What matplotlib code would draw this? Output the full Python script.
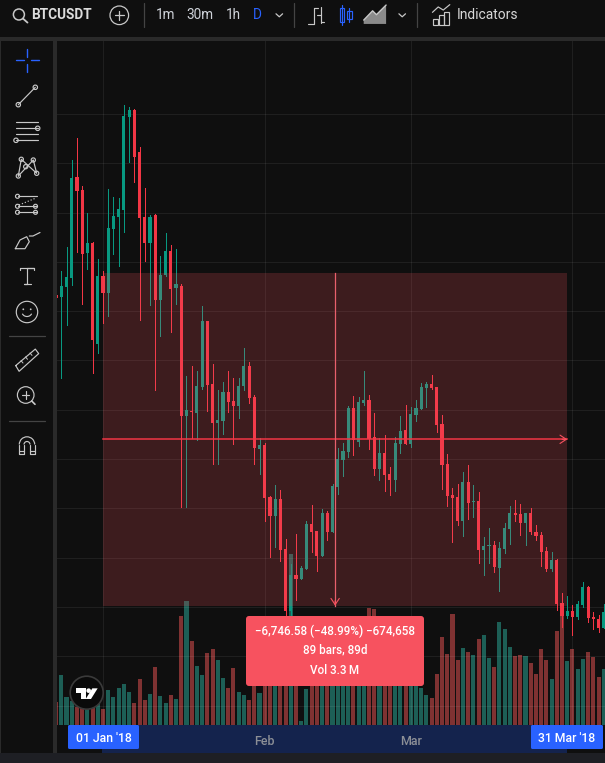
import matplotlib
matplotlib.use("Agg")
import matplotlib.pyplot as plt
import pandas as pd
from matplotlib.patches import Circle, FancyBboxPatch, Polygon, Rectangle, Arc

plt.rcParams['font.family'] = ['Roboto', 'DejaVu Sans']

dates = pd.date_range('2017-12-23', periods=106)
opens = [13327,13287,13490,13672,15720,15457,14179,14382,12334,13713,13368,14666,14909,15051,16937,17079,16227,14909,14382,14950,
         13226,13733,14220,13469,13510,10874,10975,10934,11462,12800,11522,10732,10772,11360,11178,11077,11482,11887,11259,10204,
         10285,9231,8845,9190,8176,6919,7649,7568,7771,8683,8541,8034,8906,8521,9434,9981,10143,11036,10346,11137,
         11198,10448,9799,10123,9697,9576,10306,10590,10306,10894,11016,11441,11522,11462,10711,9900,9271,9231,8744,9535,
         9129,9150,8156,8237,8257,7791,8176,8582,8906,8886,8703,8906,8521,8460,8136,7771,7953,7081,6818,6919,
         6797,7041,7406,6797,6757,6574]
highs = [13327,13814,14301,16065,16511,15538,14990,14402,14057,13814,15477,15315,15295,17181,17140,17100,16329,15497,14950,14970,
         14118,14585,14341,14260,13550,11685,11887,11786,13104,12800,11928,11401,11563,11786,11644,11644,12253,11969,11299,10427,
         10326,9251,9474,9373,8379,7872,8480,7832,8744,9069,8541,8987,8947,9494,10225,10326,11077,11279,11259,11786,
         11299,10934,10427,10488,9839,10448,10874,11097,11056,11198,11543,11563,11705,11462,10894,10103,9414,9494,9738,9880,
         9474,9332,8420,8602,8339,8318,8703,9048,9170,9089,8906,9008,8663,8521,8217,8115,7973,7284,7223,7041,
         7122,7507,7426,6899,6838,7061]
lows = [13267,11644,12719,13530,14199,13145,13855,11746,12151,12760,12902,14159,13916,14605,16025,15619,12820,14017,13125,11401,
        12496,13713,12577,13145,9028,9028,10427,10387,11421,10975,9900,9900,10508,10955,10306,10833,11401,11137,9900,9697,
        8744,8014,8217,7933,6797,6736,7142,7568,7771,8115,7730,8034,8359,8521,9292,9657,10042,10083,10265,11097,
        10204,9677,9576,9353,9271,9353,10123,10306,10245,10772,11016,11056,11421,10549,9393,9048,8318,8663,8440,8785,
        8825,7892,7649,7892,7710,7325,8095,8278,8744,8460,8257,8481,8359,7832,7730,7730,6939,6594,6777,6432,
        6757,7000,6696,6554,6493,6574]
closes = [13267,13510,13692,15700,15437,14159,14382,12415,13713,13368,14686,14930,15072,16957,17079,16126,14889,14382,14909,13226,
          13733,14220,13449,13550,10874,10995,10955,11482,12800,11502,10732,10792,11360,11157,11077,11482,11887,11239,10225,10285,
          9210,8845,9190,8156,6919,7649,7568,7791,8683,8521,8034,8906,8521,9454,10001,10164,11036,10387,11157,11198,
          10407,9799,10123,9677,9576,10326,10569,10306,10914,11036,11462,11522,11441,10691,9880,9251,9210,8744,9535,9109,
          9150,8156,8237,8257,7811,8197,8602,8906,8866,8703,8906,8521,8440,8115,7771,7953,7061,6818,6919,6797,
          7061,7406,6777,6757,6574,6899]
volumes_k = [15.6,34,19,16.3,12.2,11.6,12.9,12.2,15.6,10.9,23.8,19,25.2,27.9,22.4,15,31.3,17,21.1,39.4,
             19.7,15,20.4,17.7,74.1,85,57.1,40.1,34,49,51.7,44.2,32,25.2,38.8,22.4,20.4,17,37.4,21.8,
             37.4,44,51,58,61,117,44,2.7,24.5,41,37,34,33,34,44,37,48,41,41,34,
             79.6,78.9,48,41,37,44,41,42,37,31,25.2,20.4,18.4,34.7,59.8,48.3,75.5,44.2,52.4,49.6,
             47.6,58.5,61.2,45.6,39.4,70,65.3,53,46.9,47.6,46.9,42.2,34.7,51.7,44.2,31.3,63.9,76.8,43.5,51.7,
             38.1,44.9,49.6,46.2,32.6,38.1]

measure_start = pd.Timestamp('2018-01-01')
measure_end = pd.Timestamp('2018-03-31')
measure_top = 13774
measure_change = -6746.58
price_grid = list(range(5000, 18000, 1000))
month_ticks = ['2018-01-01', '2018-02-01', '2018-03-01', '2018-04-01']
month_labels = ['', 'Feb', 'Mar', '']

BG = '#0f0f0f'
GUTTER = '#2a2a2a'
GREEN = '#089981'
RED = '#f23645'
VOL_GREEN = '#1d5f56'
VOL_RED = '#7f3232'
ICON = '#c8c8c8'
BLUE = '#2962ff'
PINK = '#f7525f'

W, H = 605, 763
fig = plt.figure(figsize=(W / 100, H / 100), dpi=100, facecolor=BG)


def frac_box(left, top, right, bottom):
    return [left / W, 1 - bottom / H, (right - left) / W, (bottom - top) / H]


chrome = fig.add_axes([0, 0, 1, 1], zorder=0)
chrome.set_xlim(0, W)
chrome.set_ylim(H, 0)
chrome.axis('off')
chrome.add_patch(Rectangle((0, 37), W, 4, color=GUTTER, lw=0))
chrome.add_patch(Rectangle((53, 41), 4, 712, color=GUTTER, lw=0))
chrome.add_patch(Rectangle((0, 37), 1, 726, color=GUTTER, lw=0))
chrome.add_patch(Rectangle((0, 753), W, 10, color='#1e1f24', lw=0))
chrome.add_patch(Rectangle((102, 725), 465, 28, color='#14234d', lw=0))

box = frac_box(57, 41, 605, 725)
x_left = (57 - 56.08) / 5.216
x_right = (605 - 56.08) / 5.216

ax_vol = fig.add_axes(box, zorder=1)
ax_vol.patch.set_alpha(0)
ax_vol.axis('off')
ax_vol.set_xlim(x_left, x_right)
ax_vol.set_ylim(0, 467)

ax = fig.add_axes(box, zorder=2)
ax.patch.set_alpha(0)
ax.set_xlim(x_left, x_right)
ax.set_ylim(19310 - 20.28 * 725, 19310 - 20.28 * 41)
for side in ax.spines.values():
    side.set_visible(False)

idx = list(range(len(dates)))
is_up = [c >= o for o, c in zip(opens, closes)]
ax_vol.bar(idx, volumes_k, width=0.78, color=[VOL_GREEN if u else VOL_RED for u in is_up], lw=0, antialiased=False)

for p in price_grid:
    ax.axhline(p, color='white', alpha=0.07, lw=0.72, zorder=0)
ax.set_yticks([])
tick_idx = [dates.get_loc(pd.Timestamp(d)) if pd.Timestamp(d) in dates else 0 for d in month_ticks]
ax.set_xticks(tick_idx, month_labels, color='#8c8f96', fontsize=9, fontweight='medium')
ax.tick_params(axis='x', length=0, pad=7)
for t in tick_idx:
    ax.axvline(t, color='white', alpha=0.07, lw=0.72, zorder=0)

colors = [GREEN if u else RED for u in is_up]
ax.vlines(idx, lows, highs, colors=colors, lw=0.72, zorder=2, antialiased=False)
ax.bar(idx, [abs(c - o) for o, c in zip(opens, closes)], bottom=[min(o, c) for o, c in zip(opens, closes)],
       width=0.6, color=colors, zorder=2, lw=0, antialiased=False)

i0 = dates.get_loc(measure_start)
i1 = dates.get_loc(measure_end)
measure_bottom = measure_top + measure_change
measure_mid = (measure_top + measure_bottom) / 2
i_mid = (i0 + i1) / 2
ax.add_patch(Rectangle((i0, measure_bottom), i1 - i0, -measure_change, facecolor=PINK, alpha=0.2, lw=0, zorder=3))
ax.plot([i0, i1], [measure_mid, measure_mid], color=RED, lw=1.1, zorder=4, snap=True)
ax.plot([i_mid, i_mid], [measure_bottom, measure_top], color='#e8606c', lw=0.9, zorder=4, snap=True)
style = dict(arrowstyle='->,head_length=0.45,head_width=0.3', color=PINK, lw=0.8, shrinkA=0, shrinkB=0, mutation_scale=10)
ax.annotate('', xy=(i1, measure_mid), xytext=(i1 - 1, measure_mid), arrowprops=style, zorder=4)
ax.annotate('', xy=(i_mid, measure_bottom), xytext=(i_mid, measure_bottom + 100), arrowprops=style, zorder=4)

top = fig.add_axes([0, 0, 1, 1], zorder=5)
top.patch.set_alpha(0)
top.set_xlim(0, W)
top.set_ylim(H, 0)
top.axis('off')


def line(xs, ys, color=ICON, lw=0.85):
    top.plot(xs, ys, color=color, lw=lw, solid_capstyle='round')


def ring(x, y, r, color=ICON, lw=0.85, face='none'):
    top.add_patch(Circle((x, y), r, facecolor=face, edgecolor=color, lw=lw))


def z1(v):
    return v / 2.59


# tooltip and badges
top.add_patch(FancyBboxPatch((247, 617), 176, 68, boxstyle='round,pad=1,rounding_size=3', facecolor=PINK, lw=0))
top.text(335, 631, '\u22126,746.58 (\u221248.99%) \u2212674,658', color='white', ha='center', va='center', fontsize=8.4, fontweight='medium')
top.text(335, 650, '89 bars, 89d', color='white', ha='center', va='center', fontsize=8.4, fontweight='medium')
top.text(335, 670, 'Vol 3.3\u2009M', color='white', ha='center', va='center', fontsize=8.4, fontweight='medium')
for x0, x1, label in [(68, 139, "01 Jan '18"), (531, 603, "31 Mar '18")]:
    top.add_patch(FancyBboxPatch((x0 + 1, 726), x1 - x0 - 2, 22, boxstyle='round,pad=1,rounding_size=1.5', facecolor=BLUE, lw=0))
    top.text((x0 + x1) / 2, 739, label, color='white', ha='center', va='center', fontsize=8.8, fontweight='medium')

# logo
ring(86.7, 692.7, 16.5, color='#3a3a3a', lw=1.2, face='#0a0a0a')
zx = lambda v: v / 3 + 55
zy = lambda v: v / 3 + 595
top.add_patch(Polygon([(zx(63), zy(280)), (zx(92), zy(280)), (zx(92), zy(312)), (zx(78), zy(312)), (zx(78), zy(293)), (zx(63), zy(293))], color='white', lw=0))
top.add_patch(Polygon([(zx(112), zy(280)), (zx(128), zy(280)), (zx(108), zy(312)), (zx(92), zy(312))], color='white', lw=0))
top.add_patch(Circle((zx(101), zy(287)), 2.3, color='white', lw=0))

# top toolbar
ring(18.9, 14.5, 5.5, lw=1.1)
line([23, 27.5], [18.6, 22.6], lw=1.3)
top.text(31, 15, 'BTCUSDT', color='#dcdcdc', fontsize=9.8, fontweight='bold', va='center')
ring(119.3, 15.3, 9.3, lw=0.9)
line([115, 123.6], [15.3, 15.3], lw=0.9)
line([119.3, 119.3], [11, 19.6], lw=0.9)
for sx in [143.5, 293.5, 416.5]:
    line([sx, sx], [3, 27], color='#444444', lw=0.9)
for cx, label, col in [(166, '1m', '#cfd3da'), (200, '30m', '#cfd3da'), (233, '1h', '#cfd3da'), (257, 'D', BLUE)]:
    top.text(cx, 15.3, label, color=col, fontsize=9.8, ha='center', va='center')
for cx in [279.3, 402.2]:
    line([cx - 3.3, cx, cx + 3.3], [13.8, 16.8, 13.8], lw=0.9)
line([z1(812), z1(812)], [z1(20), z1(63)])
line([z1(798), z1(812)], [z1(62), z1(62)])
line([z1(812), z1(824)], [z1(22), z1(22)])
line([z1(832), z1(832)], [z1(18), z1(60)])
line([z1(820), z1(832)], [z1(40), z1(40)])
line([z1(832), z1(840)], [z1(56), z1(56)])
line([z1(886), z1(886)], [z1(12), z1(66)], color=BLUE)
top.add_patch(Rectangle((z1(880), z1(20)), z1(12), z1(38), facecolor=BG, edgecolor=BLUE, lw=0.85))
line([z1(905), z1(905)], [z1(20), z1(58)], color=BLUE)
top.add_patch(Rectangle((z1(900), z1(28)), z1(11), z1(22), facecolor=BG, edgecolor=BLUE, lw=0.85))
area_x = [z1(942), z1(965), z1(975), z1(1000)]
area_y = [z1(52), z1(28), z1(38), z1(13)]
top.add_patch(Polygon(list(zip(area_x, area_y)) + [(z1(1000), z1(62)), (z1(942), z1(62))], facecolor='#8a8a8a', lw=0))
line(area_x, area_y, lw=1)
line([z1(1120), z1(1135), z1(1148), z1(1165)], [z1(32), z1(18), z1(26), z1(12)])
for bx, by in [(1122, 50), (1136, 38), (1150, 30)]:
    top.add_patch(Rectangle((z1(bx), z1(by)), z1(13), z1(64 - by), fill=False, edgecolor=ICON, lw=0.85))
top.text(456.4, 15.3, 'Indicators', color='#d8d8d8', fontsize=9.9, va='center')

# left toolbar
line([16, 24], [60.3, 60.3], color=BLUE, lw=1)
line([31, 39], [60.3, 60.3], color=BLUE, lw=1)
line([27.3, 27.3], [49, 57], color=BLUE, lw=1)
line([27.3, 27.3], [64, 72], color=BLUE, lw=1)
line([18.3, 35.3], [104.7, 87.3])
ring(18.3, 104.7, 2.2, face=BG)
ring(35.3, 87.3, 2.2, face=BG)
for ly in [122, 128.3, 134.3, 140.3]:
    line([16, 38], [ly, ly])
ring(37.7, 128.3, 2.2, face=BG)
ring(16, 140.3, 2.2, face=BG)
line([18.3, 21.3, 36.7, 33.3, 18.3], [176, 159.3, 173.3, 160, 176])
for nx, ny in [(18.3, 176), (21.3, 159.3), (25.7, 166.7), (33.3, 160), (36.7, 173.3)]:
    ring(nx, ny, 2.1, face=BG)
for ly in [196.3, 206.3, 212.3]:
    line([17.5, 36.5], [ly, ly])
top.plot([19, 36], [205, 198], color=ICON, lw=0.85, ls=':')
for nx, ny in [(17.5, 196.3), (17.5, 206.3), (35.5, 206.3), (17.5, 212.3), (35.5, 212.3)]:
    ring(nx, ny, 2, face=BG)
line([15.3, 20, 26.7, 29.3, 25, 15.3], [248.7, 240, 236.7, 241.7, 248.7, 248.7])
line([29.3, 33, 40], [236, 236, 232.5])
line([20, 34, 27, 27, 23.5, 30.5], [267.7, 267.7, 267.7, 284.3, 284.3, 284.3])
line([20, 20], [267.7, 270])
line([34, 34], [267.7, 270])
ring(27, 312, 10.7)
top.add_patch(Circle((23.3, 309.3), 0.9, color=ICON, lw=0))
top.add_patch(Circle((30.7, 309.3), 0.9, color=ICON, lw=0))
top.add_patch(Arc((27, 312), 10, 9, theta1=20, theta2=160, edgecolor=ICON, lw=0.85))
line([9, 44.7], [336, 336], color='#444444', lw=0.9)
line([15.7, 35.3, 38.7, 19.1, 15.7], [365.6, 349.1, 353.6, 371.3, 365.6])
for rx, ry in [(21, 360.6), (25.5, 356.9), (30, 353)]:
    line([rx, rx + 2], [ry, ry + 2.4], lw=0.7)
ring(25.7, 395, 8.3)
line([22, 29.4], [395, 395])
line([25.7, 25.7], [391.3, 398.7])
line([31.7, 35], [401, 404.3], lw=1.2)
line([9, 44.7], [421, 421], color='#444444', lw=0.9)
top.add_patch(Arc((27, 444.5), 15.4, 15.4, theta1=180, theta2=360, edgecolor=ICON, lw=0.85))
top.add_patch(Arc((27, 444.5), 6, 6, theta1=180, theta2=360, edgecolor=ICON, lw=0.85))
line([19.3, 19.3, 24, 24], [444.5, 454.3, 454.3, 444.5])
line([34.7, 34.7, 30, 30], [444.5, 454.3, 454.3, 444.5])
line([19.3, 24], [450.5, 450.5])
line([30, 34.7], [450.5, 450.5])

fig.savefig('out.png', dpi=100, facecolor=BG)
